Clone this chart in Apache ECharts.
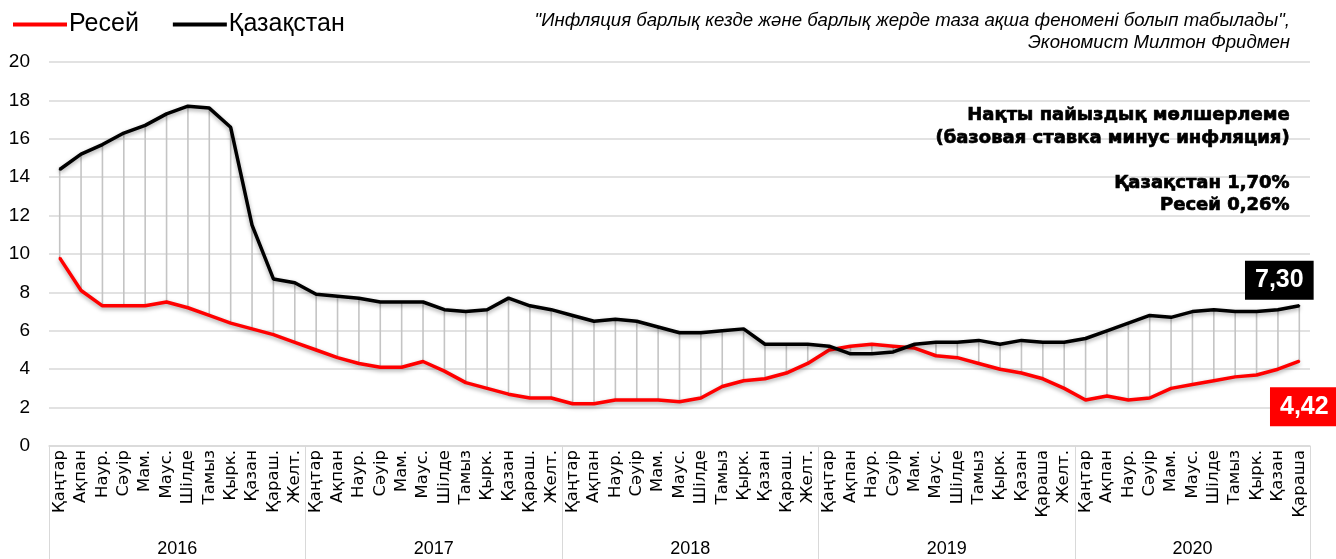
<!DOCTYPE html>
<html>
<head>
<meta charset="utf-8">
<script src="https://cdn.jsdelivr.net/npm/echarts@6/dist/echarts.min.js"></script>
<style>
  html, body { margin: 0; padding: 0; background: #fff; }
  #chart { width: 1336px; height: 559px; }
</style>
</head>
<body>
<div id="chart"></div>
<script>
// айлар (2016 қаңтар - 2020 қараша)
const months = [
  'Қаңтар','Ақпан','Наур.','Сәуір','Мам.','Маус.','Шілде','Тамыз','Қырк.','Қазан','Қараш.','Желт.',
  'Қаңтар','Ақпан','Наур.','Сәуір','Мам.','Маус.','Шілде','Тамыз','Қырк.','Қазан','Қараш.','Желт.',
  'Қаңтар','Ақпан','Наур.','Сәуір','Мам.','Маус.','Шілде','Тамыз','Қырк.','Қазан','Қараш.','Желт.',
  'Қаңтар','Ақпан','Наур.','Сәуір','Мам.','Маус.','Шілде','Тамыз','Қырк.','Қазан','Қараша','Желт.',
  'Қаңтар','Ақпан','Наур.','Сәуір','Мам.','Маус.','Шілде','Тамыз','Қырк.','Қазан','Қараша'
]
const years = ['2016', '2017', '2018', '2019', '2020']
const yearCenters = [5.5, 17.5, 29.5, 41.5, 53]
const yearBounds = [-0.5, 11.5, 23.5, 35.5, 47.5, 58.5]

const kazakhstan = [
  14.4, 15.2, 15.7, 16.3, 16.7, 17.3, 17.7, 17.6, 16.6, 11.5, 8.7, 8.5,
  7.9, 7.8, 7.7, 7.5, 7.5, 7.5, 7.1, 7.0, 7.1, 7.7, 7.3, 7.1,
  6.8, 6.5, 6.6, 6.5, 6.2, 5.9, 5.9, 6.0, 6.1, 5.3, 5.3, 5.3,
  5.2, 4.8, 4.8, 4.9, 5.3, 5.4, 5.4, 5.5, 5.3, 5.5, 5.4, 5.4,
  5.6, 6.0, 6.4, 6.8, 6.7, 7.0, 7.1, 7.0, 7.0, 7.1, 7.3
]
const russia = [
  9.8, 8.1, 7.3, 7.3, 7.3, 7.5, 7.2, 6.8, 6.4, 6.1, 5.8, 5.4,
  5.0, 4.6, 4.3, 4.1, 4.1, 4.4, 3.9, 3.3, 3.0, 2.7, 2.5, 2.5,
  2.2, 2.2, 2.4, 2.4, 2.4, 2.3, 2.5, 3.1, 3.4, 3.5, 3.8, 4.3,
  5.0, 5.2, 5.3, 5.2, 5.1, 4.7, 4.6, 4.3, 4.0, 3.8, 3.5, 3.0,
  2.4, 2.6, 2.4, 2.5, 3.0, 3.2, 3.4, 3.6, 3.7, 4.0, 4.42
]
const lastKz = '7,30'
const lastRu = '4,42'

const FONT = '"Liberation Sans", Arial, sans-serif'
const FONT_WIDE = '"DejaVu Sans", Arial, sans-serif'
const chart = echarts.init(document.getElementById('chart'))

// соңғы нүктеге жапсырма қою
function withEndLabel(arr, text, bg, pos, offset) {
  return arr.map((v, i) => {
    if (i !== arr.length - 1) return v
    return {
      value: v,
      label: {
        show: true,
        formatter: text,
        position: pos,
        distance: 5,
        offset: offset,
        backgroundColor: bg,
        color: '#fff',
        fontFamily: FONT,
        fontWeight: 'bold',
        fontSize: 25,
        lineHeight: 27,
        padding: [6, 10, 6, 10]
      }
    }
  })
}

// оң жаққа тураланған бір жолды мәтін
function rText(str, top, font, heavy) {
  const style = { text: str, font: font, fill: '#000' }
  if (heavy) { style.stroke = '#000'; style.lineWidth = 0.7 }
  return { type: 'text', right: 46, top: top, z: 10, style: style }
}

const shadow = { shadowColor: 'rgba(0,0,0,0.35)', shadowBlur: 4, shadowOffsetY: 2 }

const option = {
  backgroundColor: '#fff',
  animation: false,
  textStyle: { fontFamily: FONT },
  legend: {
    data: [{ name: 'Ресей', icon: 'rect' }, { name: 'Қазақстан', icon: 'rect' }],
    left: 8,
    top: 7,
    itemWidth: 54,
    itemHeight: 4,
    itemGap: 34,
    textStyle: { fontSize: 25, color: '#000', fontFamily: FONT, padding: [0, 0, 0, -3] }
  },
  graphic: [
    rText('"Инфляция барлық кезде және барлық жерде таза ақша феномені болып табылады",', 11, 'italic 18.6px ' + FONT),
    rText('Экономист Милтон Фридмен', 33, 'italic 18.6px ' + FONT),
    rText('Нақты пайыздық мөлшерлеме', 106, 'bold 18px ' + FONT_WIDE, true),
    rText('(базовая ставка минус инфляция)', 129, 'bold 18px ' + FONT_WIDE, true),
    rText('Қазақстан 1,70%', 174, 'bold 18px ' + FONT_WIDE, true),
    rText('Ресей 0,26%', 196, 'bold 18px ' + FONT_WIDE, true)
  ],
  grid: { left: 49, right: 26, top: 62, bottom: 113 },
  xAxis: [
    {
      type: 'category',
      data: months,
      boundaryGap: true,
      axisLine: { lineStyle: { color: '#d9d9d9', width: 1.5 } },
      axisTick: { length: 80, lineStyle: { color: '#d9d9d9', width: 1 } },
      axisLabel: { rotate: 90, interval: 0, fontSize: 16.5, color: '#000', margin: 4, fontFamily: FONT_WIDE }
    },
    {
      // жылдар деңгейі
      type: 'value',
      position: 'bottom',
      min: -0.5,
      max: 58.5,
      splitLine: { show: false },
      axisLine: { show: false },
      axisTick: { show: true, length: 113, customValues: yearBounds, lineStyle: { color: '#d9d9d9', width: 1 } },
      axisLabel: {
        customValues: yearCenters,
        margin: 94,
        fontSize: 18,
        color: '#000',
        fontFamily: FONT,
        formatter: v => years[yearCenters.indexOf(v)]
      }
    }
  ],
  yAxis: {
    type: 'value',
    min: 0,
    max: 20,
    interval: 2,
    axisLine: { show: false },
    axisTick: { show: false },
    axisLabel: { fontSize: 19, color: '#000', margin: 19, fontFamily: FONT },
    splitLine: { lineStyle: { color: '#d9d9d9', width: 1.5 } }
  },
  series: [
    {
      // сұр тік сызықтар (айырма)
      type: 'custom',
      name: 'gap',
      z: 1,
      silent: true,
      encode: { x: 0, y: [1, 2] },
      data: months.map((m, i) => [i, russia[i], kazakhstan[i]]),
      renderItem: (params, api) => {
        const a = api.coord([api.value(0), api.value(1)])
        const b = api.coord([api.value(0), api.value(2)])
        return {
          type: 'line',
          shape: { x1: a[0], y1: a[1], x2: b[0], y2: b[1] },
          style: { stroke: '#c4c4c4', lineWidth: 1.6 }
        }
      }
    },
    {
      name: 'Ресей',
      type: 'line',
      z: 3,
      symbol: 'circle',
      symbolSize: 2,
      showSymbol: true,
      color: '#ff0000',
      itemStyle: { color: '#ff0000' },
      lineStyle: Object.assign({ color: '#ff0000', width: 3.5 }, shadow),
      data: withEndLabel(russia, lastRu, '#ff0000', 'bottom', [5, 20])
    },
    {
      name: 'Қазақстан',
      type: 'line',
      z: 4,
      symbol: 'circle',
      symbolSize: 2,
      showSymbol: true,
      color: '#000',
      itemStyle: { color: '#000' },
      lineStyle: Object.assign({ color: '#000', width: 3.5 }, shadow),
      data: withEndLabel(kazakhstan, lastKz, '#000', 'top', [-20, 0])
    }
  ]
}

chart.setOption(option)
</script>
</body>
</html>
